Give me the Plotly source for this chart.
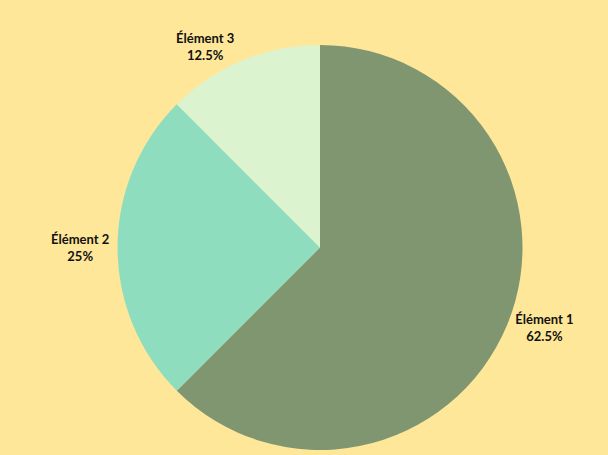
import plotly.graph_objects as go

labels = ["Élément 1", "Élément 2", "Élément 3"]
values = [62.5, 25, 12.5]
colors = ["#809671", "#8FDDBF", "#DBF3CE"]

fig = go.Figure(go.Pie(
    labels=labels,
    values=values,
    sort=False,
    direction="clockwise",
    rotation=0,
    marker=dict(colors=colors, line=dict(width=0)),
    textposition="outside",
    textinfo="label+percent",
    textfont=dict(family="Lato, sans-serif", size=13, color="#111111", weight="bold"),
    showlegend=False,
    domain=dict(x=[(320 - 207) / 608, (320 + 207) / 608], y=[0, 1]),
))

fig.update_layout(
    width=608, height=455,
    paper_bgcolor="#FFE799",
    plot_bgcolor="#FFE799",
    margin=dict(l=0, r=0, t=45, b=0),
)

fig.write_html(
    "out.html",
    config={"displayModeBar": False},
    post_script="document.body.style.margin='0';document.body.style.background='#FFE799';",
)
